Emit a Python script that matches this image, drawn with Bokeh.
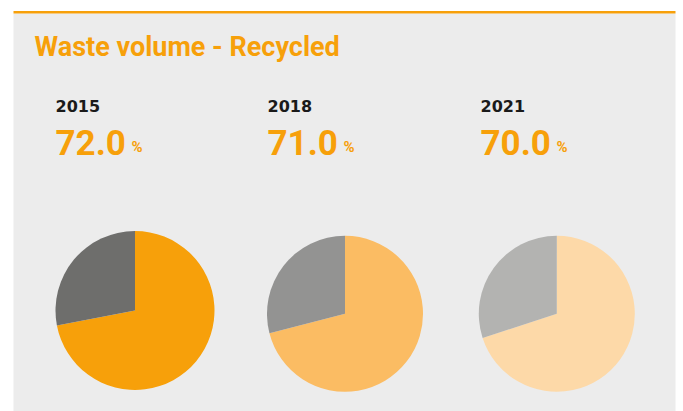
import math
from bokeh.plotting import figure
from bokeh.models import Range1d
from bokeh.core.properties import value
from bokeh.embed import file_html
from bokeh.resources import INLINE

# ---- data ----
title = "Waste volume - Recycled"
years = ["2015", "2018", "2021"]
recycled = [72.0, 71.0, 70.0]
main_colors = ["#F7A00A", "#FBBC63", "#FDD9A8"]
rest_colors = ["#6E6E6C", "#939392", "#B3B3B1"]

# ---- layout constants ----
W, H = 683, 411
FONT = "Roboto"
ORANGE = "#F7A00A"
col_x = [56, 268, 481]
pie_cx = [134.5, 344.5, 556.3]
pie_cy = [101, 97.7, 97.7]
pie_r = [79.5, 78, 78]

p = figure(width=W, height=H, output_backend="svg", toolbar_location=None,
           x_range=Range1d(0, W), y_range=Range1d(0, H), min_border=0,
           background_fill_color="white", border_fill_color="white")
p.outline_line_color = None
p.axis.visible = False
p.grid.visible = False

# panel and top line
p.quad(left=[13], right=[675], bottom=[0], top=[398], fill_color="#ECECEC", line_color=None)
p.quad(left=[13], right=[675], bottom=[398], top=[400.5], fill_color=ORANGE, line_color=None)

p.text(x=[34], y=[364.7], text=[title], text_font=value(FONT), text_font_style="bold",
       text_font_size="27px", text_color=ORANGE, text_baseline="alphabetic")

for i, (yr, v) in enumerate(zip(years, recycled)):
    x0 = col_x[i]
    p.text(x=[x0 - 1], y=[305.5], text=[yr], text_font=value("DejaVu Sans"), text_font_style="bold",
           text_font_size="16px", text_color="#1A1A1A", text_baseline="alphabetic")
    p.text(x=[x0 - 1], y=[269], text=[f"{v:.1f}"], text_font=value(FONT), text_font_style="bold",
           text_font_size="35px", text_color=ORANGE, text_baseline="alphabetic")
    p.text(x=[x0 + 75], y=[265], text=["%"], text_font=value(FONT), text_font_style="bold",
           text_font_size="15px", text_color=ORANGE, text_baseline="alphabetic")
    frac = v / 100.0
    top = math.pi / 2
    p.wedge(x=[pie_cx[i]], y=[pie_cy[i]], radius=pie_r[i],
            start_angle=top - 2 * math.pi * frac, end_angle=top,
            fill_color=main_colors[i], line_color=None)
    p.wedge(x=[pie_cx[i]], y=[pie_cy[i]], radius=pie_r[i],
            start_angle=top, end_angle=top + 2 * math.pi * (1 - frac),
            fill_color=rest_colors[i], line_color=None)

open("out.html", "w").write(file_html(p, INLINE))
